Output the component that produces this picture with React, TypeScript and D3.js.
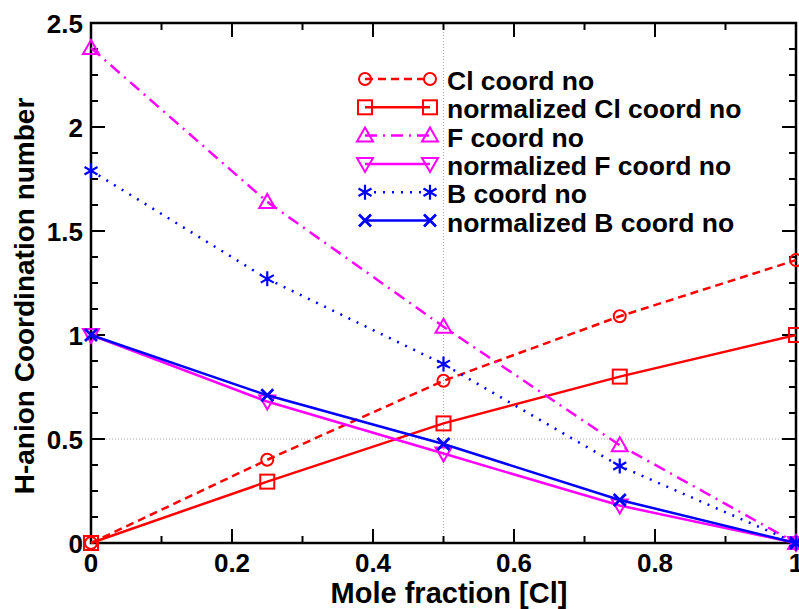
import React from "react";
import * as d3 from "d3";

// Mole fraction of Cl
const moleFraction = [0, 0.25, 0.5, 0.75, 1];

// Coordination numbers per series
const clCoord = [0, 0.4, 0.78, 1.09, 1.36];
const clNorm = [0, 0.295, 0.575, 0.8, 1.0];
const fCoord = [2.38, 1.64, 1.04, 0.47, 0];
const fNorm = [1, 0.68, 0.43, 0.18, 0];
const bCoord = [1.79, 1.27, 0.86, 0.37, 0];
const bNorm = [1, 0.71, 0.476, 0.207, 0];

const seriesLabels = [
  "Cl coord no",
  "normalized Cl coord no",
  "F coord no",
  "normalized F coord no",
  "B coord no",
  "normalized B coord no",
];

const xTicks = [0, 0.2, 0.4, 0.6, 0.8, 1];
const yTicks = [0, 0.5, 1, 1.5, 2, 2.5];

type Marker = "circle" | "square" | "triUp" | "triDown" | "star" | "cross";

const seriesStyles: { values: number[]; color: string; dash: string | null; marker: Marker }[] = [
  { values: clCoord, color: "#ff0000", dash: "8,5", marker: "circle" },
  { values: clNorm, color: "#ff0000", dash: null, marker: "square" },
  { values: fCoord, color: "#ff00ff", dash: "12,6,2,6", marker: "triUp" },
  { values: fNorm, color: "#ff00ff", dash: null, marker: "triDown" },
  { values: bCoord, color: "#0000ff", dash: "2,7", marker: "star" },
  { values: bNorm, color: "#0000ff", dash: null, marker: "cross" },
];

const W = 799;
const H = 609;
const left = 91;
const right = 796;
const top = 23;
const bottom = 543;

const FONT = "'Liberation Sans', Arial, Helvetica, sans-serif";

function MarkerShape({ type, x, y, color }: { type: Marker; x: number; y: number; color: string }) {
  const sw = 2;
  switch (type) {
    case "circle":
      return <circle cx={x} cy={y} r={6} fill="none" stroke={color} strokeWidth={sw} />;
    case "square":
      return <rect x={x - 7} y={y - 7} width={14} height={14} fill="none" stroke={color} strokeWidth={sw} />;
    case "triUp":
      return (
        <path d={`M${x},${y - 8} L${x + 8},${y + 6} L${x - 8},${y + 6} Z`} fill="none" stroke={color} strokeWidth={sw} />
      );
    case "triDown":
      return (
        <path d={`M${x},${y + 8} L${x + 8},${y - 6} L${x - 8},${y - 6} Z`} fill="none" stroke={color} strokeWidth={sw} />
      );
    case "star": {
      const r = 7.5;
      const d = r * 0.866;
      return (
        <path
          d={`M${x},${y - r} L${x},${y + r} M${x - d},${y - r / 2} L${x + d},${y + r / 2} M${x - d},${y + r / 2} L${x + d},${y - r / 2}`}
          stroke={color}
          strokeWidth={2.2}
        />
      );
    }
    case "cross": {
      const r = 6;
      return (
        <path
          d={`M${x - r},${y - r} L${x + r},${y + r} M${x - r},${y + r} L${x + r},${y - r}`}
          stroke={color}
          strokeWidth={2.8}
        />
      );
    }
  }
}

export default function App() {
  const x = d3.scaleLinear().domain([0, 1]).range([left, right]);
  const y = d3.scaleLinear().domain([0, 2.5]).range([bottom, top]);

  const line = d3
    .line<number>()
    .x((_, i) => x(moleFraction[i]))
    .y((v) => y(v));

  const xMinor = d3.range(0, 1.0001, 0.1);
  const yMinor = d3.range(0, 2.5001, 0.125);

  const legendX0 = 365;
  const legendX1 = 430;
  const legendTextX = 447;
  const legendY0 = 79;
  const legendDy = 28.3;

  return (
    <svg
      width={W}
      height={H}
      style={{ position: "absolute", left: 0, top: 0, background: "#fff" }}
      fontFamily={FONT}
    >
      <rect x={0} y={0} width={W} height={H} fill="#fff" />

      {/* grid at 0.5 */}
      <line x1={x(0.5)} x2={x(0.5)} y1={top} y2={bottom} stroke="#aaa" strokeWidth={1} strokeDasharray="1,2" />
      <line x1={left} x2={right} y1={y(0.5)} y2={y(0.5)} stroke="#aaa" strokeWidth={1} strokeDasharray="1,2" />

      {/* ticks */}
      {xMinor.map((t, i) => {
        const major = i % 2 === 0;
        const len = major ? 14 : 7;
        return (
          <g key={`xt${i}`} stroke="#000" strokeWidth={2}>
            <line x1={x(t)} x2={x(t)} y1={bottom} y2={bottom - len} />
            <line x1={x(t)} x2={x(t)} y1={top} y2={top + len} />
          </g>
        );
      })}
      {yMinor.map((t, i) => {
        const major = i % 4 === 0;
        const len = major ? 14 : 7;
        return (
          <g key={`yt${i}`} stroke="#000" strokeWidth={2}>
            <line x1={left} x2={left + len} y1={y(t)} y2={y(t)} />
            <line x1={right} x2={right - len} y1={y(t)} y2={y(t)} />
          </g>
        );
      })}

      {/* frame */}
      <rect x={left} y={top} width={right - left} height={bottom - top} fill="none" stroke="#000" strokeWidth={2.5} />

      {/* series */}
      {seriesStyles.map((s, si) => (
        <g key={`s${si}`}>
          <path
            d={line(s.values) || ""}
            fill="none"
            stroke={s.color}
            strokeWidth={2.5}
            strokeDasharray={s.dash || undefined}
          />
          {s.values.map((v, i) => (
            <MarkerShape key={i} type={s.marker} x={x(moleFraction[i])} y={y(v)} color={s.color} />
          ))}
        </g>
      ))}

      {/* tick labels */}
      {xTicks.map((t) => (
        <text key={`xl${t}`} x={x(t)} y={572} textAnchor="middle" fontSize={26} fontWeight="bold">
          {d3.format("~g")(t)}
        </text>
      ))}
      {yTicks.map((t) => (
        <text key={`yl${t}`} x={83} y={y(t) + 10} textAnchor="end" fontSize={26} fontWeight="bold">
          {d3.format("~g")(t)}
        </text>
      ))}

      {/* axis titles */}
      <text x={449} y={603} textAnchor="middle" fontSize={29} fontWeight="bold">
        Mole fraction [Cl]
      </text>
      <text
        transform={`translate(34,296) rotate(-90)`}
        textAnchor="middle"
        fontSize={28}
        fontWeight="bold"
      >
        H-anion Coordination number
      </text>

      {/* legend */}
      {seriesStyles.map((s, i) => {
        const ly = legendY0 + i * legendDy;
        return (
          <g key={`lg${i}`}>
            <line
              x1={legendX0}
              x2={legendX1}
              y1={ly}
              y2={ly}
              stroke={s.color}
              strokeWidth={2.5}
              strokeDasharray={s.dash || undefined}
            />
            <MarkerShape type={s.marker} x={legendX0} y={ly} color={s.color} />
            <MarkerShape type={s.marker} x={legendX1} y={ly} color={s.color} />
            <text x={legendTextX} y={ly + 11} fontSize={26.5} fontWeight="bold">
              {seriesLabels[i]}
            </text>
          </g>
        );
      })}
    </svg>
  );
}
